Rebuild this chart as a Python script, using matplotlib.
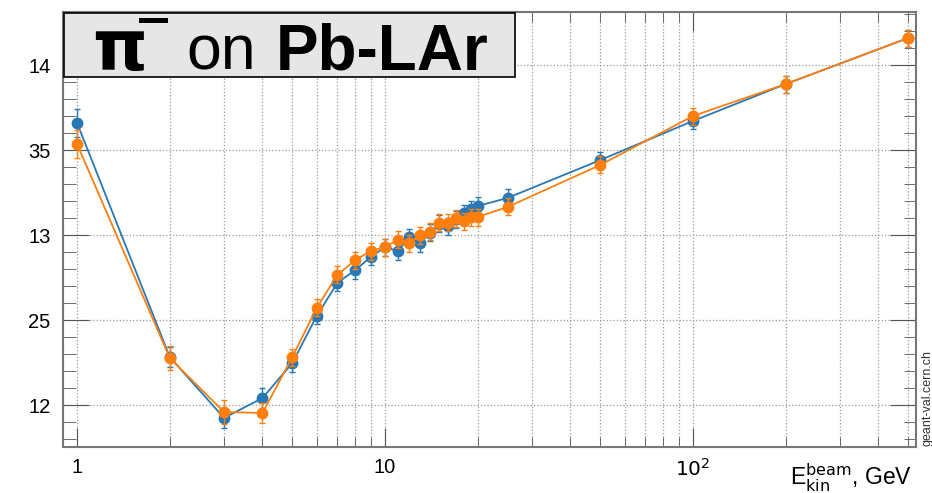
import numpy as np
import matplotlib.pyplot as plt
from matplotlib.ticker import FixedLocator, NullFormatter, MultipleLocator
from matplotlib.patches import Rectangle

plt.rcParams['font.family'] = ['Liberation Sans', 'DejaVu Sans']

# beam kinetic energy, GeV
energy = [1, 2, 3, 4, 5, 6, 7, 8, 9, 10, 11, 12, 13, 14, 15, 16, 17, 18, 19,
          20, 25, 50, 100, 200, 500]

blue_vals = [0.13659, 0.12282, 0.11924, 0.12041, 0.12247, 0.12524, 0.12718,
             0.12794, 0.12871, 0.12929, 0.12906, 0.12988, 0.12953, 0.13012,
             0.13065, 0.13053, 0.13094, 0.13129, 0.13153, 0.13171, 0.13218,
             0.13441, 0.13671, 0.13888, 0.14159]
blue_err = [0.0008, 0.0006, 0.0006, 0.0006, 0.0005, 0.0005, 0.0005, 0.0005,
            0.0005, 0.0005, 0.0005, 0.0005, 0.0005, 0.0005, 0.0005, 0.0005,
            0.0005, 0.0005, 0.0005, 0.0005, 0.0005, 0.0005, 0.0005, 0.0005,
            0.0005]

orange_vals = [0.13535, 0.12276, 0.11959, 0.11953, 0.12282, 0.12571, 0.12765,
               0.12853, 0.12906, 0.12929, 0.12971, 0.12953, 0.13000, 0.13018,
               0.13071, 0.13071, 0.13100, 0.13082, 0.13106, 0.13106, 0.13165,
               0.13412, 0.13700, 0.13888, 0.14159]
orange_err = [0.0008, 0.0007, 0.0007, 0.0006, 0.0005, 0.0005, 0.0005, 0.0005,
              0.0005, 0.0005, 0.0005, 0.0005, 0.0005, 0.0005, 0.0005, 0.0005,
              0.0005, 0.0005, 0.0005, 0.0005, 0.0005, 0.0005, 0.0005, 0.0005,
              0.0005]

y_ticks = [0.120, 0.125, 0.130, 0.135, 0.140]
y_ticklabels = ['12', '25', '13', '35', '14']
x_ticks = [1, 10, 100]
x_ticklabels = ['1', '10', '$10^2$']

W, H = 932, 493
fig = plt.figure(figsize=(W / 100, H / 100), dpi=100)
ax = fig.add_axes([63 / W, 1 - 447 / H, (916 - 63) / W, (447 - 12) / H])

ax.errorbar(energy, blue_vals, yerr=blue_err, fmt='o-', color='#2878b5',
            ms=7.5, lw=1.3, elinewidth=1, capsize=2, zorder=3)
ax.errorbar(energy, orange_vals, yerr=orange_err, fmt='o-', color='#ff7f0e',
            ms=7.5, lw=1.3, elinewidth=1, capsize=2, zorder=4)

ax.set_xscale('log')
ax.set_xlim(0.9, 530)
ax.set_ylim(0.11753, 0.14312)

ax.xaxis.set_major_locator(FixedLocator(x_ticks))
ax.set_xticklabels(x_ticklabels)
ax.xaxis.set_minor_formatter(NullFormatter())
ax.yaxis.set_major_locator(FixedLocator(y_ticks))
ax.set_yticklabels(y_ticklabels)
ax.yaxis.set_minor_locator(MultipleLocator(0.001))

ax.tick_params(which='both', direction='in', top=True, right=True,
               color='#555555', labelsize=14.5)
ax.tick_params(axis='y', which='major', length=19, pad=9)
ax.tick_params(axis='y', which='minor', length=9)
ax.tick_params(axis='x', which='major', length=14, pad=8)
ax.tick_params(axis='x', which='minor', length=7)

for s in ax.spines.values():
    s.set_color('#777777')
    s.set_linewidth(1.5)

ax.grid(True, axis='x', which='both', ls=':', color='#999999', lw=0.9)
ax.grid(True, axis='y', which='major', ls=':', color='#999999', lw=0.9)
ax.set_axisbelow(True)

# axis title at lower right
fig.text(912 / W, 1 - 485 / H, r'E$_{\rm kin}^{\rm beam}$, GeV', ha='right',
         va='baseline', fontsize=16.5)

# watermark
fig.text(927 / W, 1 - 446 / H, 'geant-val.cern.ch', rotation=90, ha='center',
         va='bottom', fontsize=9, color='#333333')

# title box
fig.patches.append(Rectangle((64 / W, 1 - 77 / H), (515 - 64) / W, (77 - 13) / H,
                             transform=fig.transFigure, facecolor='#e6e6e6',
                             edgecolor='black', lw=1.2, zorder=5))
fig.text(92 / W, 1 - 70 / H, 'π', fontsize=50, fontweight='bold',
         family='DejaVu Sans', ha='left', va='baseline', zorder=6)
fig.patches.append(Rectangle((139 / W, 1 - 23 / H), 29 / W, 5 / H,
                             transform=fig.transFigure, facecolor='black',
                             edgecolor='none', zorder=6))
fig.text(186 / W, 1 - 70 / H, 'on', fontsize=45, ha='left', va='baseline',
         zorder=6)
fig.text(276 / W, 1 - 70 / H, 'Pb-LAr', fontsize=46, fontweight='bold',
         ha='left', va='baseline', zorder=6)

fig.savefig('out.png', dpi=100)
